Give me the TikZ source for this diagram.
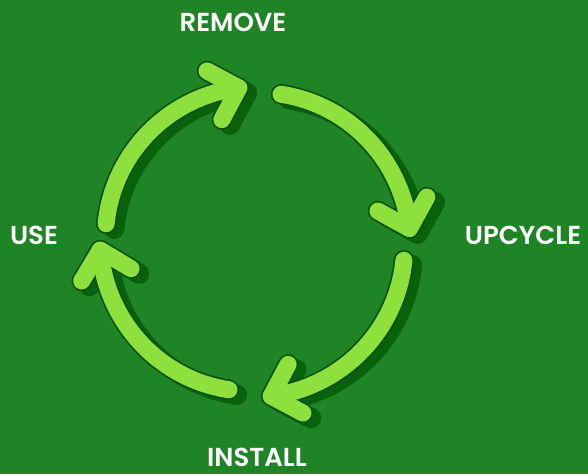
\documentclass[tikz,border=0pt]{standalone}
\usepackage{fontspec}
\setmainfont{Poppins}[BoldFont={Poppins SemiBold}]
\definecolor{bggreen}{RGB}{31,132,38}
\definecolor{lightgreen}{RGB}{142,224,60}
\definecolor{shadowgreen}{RGB}{8,98,12}
\definecolor{edgegreen}{RGB}{12,84,14}
\tikzset{
  label/.style={text=white,inner sep=0pt,font=\fontsize{26}{26}\selectfont\bfseries},
  arrowshadow/.style={draw=shadowgreen,line width=20.5pt,line cap=round,line join=round},
  arrowedge/.style={draw=edgegreen,line width=20.5pt,line cap=round,line join=round},
  arrowbody/.style={draw=lightgreen,line width=17pt,line cap=round,line join=round}
}
% #1 start angle, #2 end angle, #3 style
\newcommand\cyclearrow[3]{%
  \coordinate (A) at ({255+155*cos(#2)},{-242+155*sin(#2)});
  \draw[#3] plot[domain=0:1,samples=50]
    ({255+(150+5*\x)*cos(#1+(#2-#1)*\x)},{-242+(150+5*\x)*sin(#1+(#2-#1)*\x)});
  \draw[#3] ([shift={(#2+56:36)}]A) -- (A) -- ([shift={(#2+146:36)}]A);
}
\begin{document}
\begin{tikzpicture}[x=1pt,y=1pt]
\fill[bggreen] (0,0) rectangle (588,-474);
\useasboundingbox (0,0) rectangle (588,-474);
\begin{scope}[shift={(8,-5)}]
  \cyclearrow{80}{5}{arrowshadow}
  \cyclearrow{-7}{-84}{arrowshadow}
  \cyclearrow{-100}{-177}{arrowshadow}
  \cyclearrow{173}{96}{arrowshadow}
\end{scope}
\cyclearrow{80}{5}{arrowedge}
\cyclearrow{80}{5}{arrowbody}
\cyclearrow{-7}{-84}{arrowedge}
\cyclearrow{-7}{-84}{arrowbody}
\cyclearrow{-100}{-177}{arrowedge}
\cyclearrow{-100}{-177}{arrowbody}
\cyclearrow{173}{96}{arrowedge}
\cyclearrow{173}{96}{arrowbody}
\node[label] (remove) at (233,-22) {REMOVE};
\node[label] (upcycle) at (523,-235.5) {UPCYCLE};
\node[label] (use) at (34,-235.5) {USE};
\node[label] (install) at (257,-457.5) {INSTALL};
\end{tikzpicture}
\end{document}
